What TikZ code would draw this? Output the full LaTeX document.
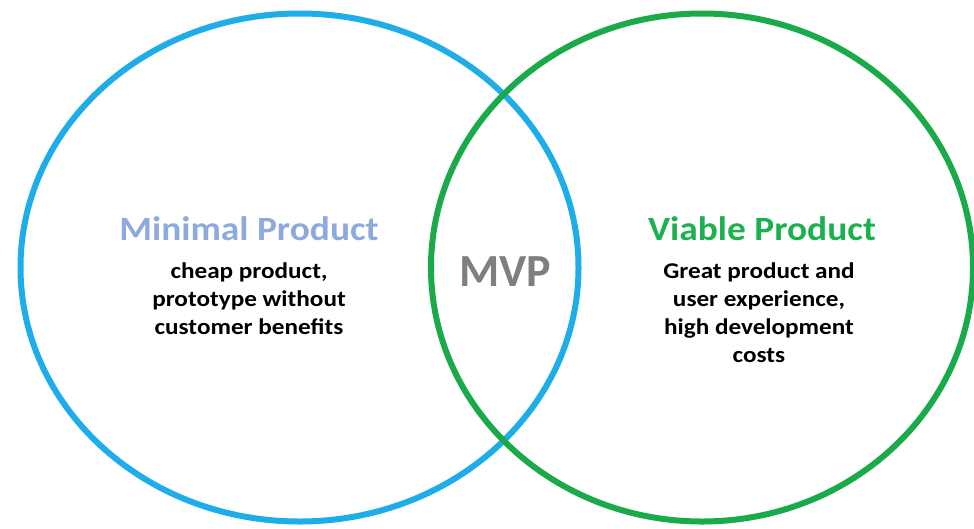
\documentclass[tikz,border=0pt]{standalone}
\usepackage{fontspec}
\setmainfont{Carlito}
\newfontfamily\widefont{Carlito}[FakeStretch=1.1]
\newfontfamily\bodyfont{Carlito}[FakeStretch=1.12]
\definecolor{cblue}{HTML}{1EADE8}
\definecolor{cgreen}{HTML}{1BAA4A}
\definecolor{tblue}{HTML}{8EA9DB}
\definecolor{tgreen}{HTML}{1DB04F}
\definecolor{tgray}{HTML}{7F7F7F}
\begin{document}
\begin{tikzpicture}[x=1pt,y=-1pt,
  ring/.style={line width=6pt},
  title/.style={font=\widefont\bfseries\fontsize{34}{40}\selectfont},
  body/.style={font=\bodyfont\bfseries\fontsize{22.5}{28}\selectfont,align=center,text=black},
  mid/.style={font=\bfseries\fontsize{46}{50}\selectfont,text=tgray}]
\useasboundingbox (0,0) rectangle (974,528);
\draw[ring,cblue] (299.5,267.5) ellipse [x radius=279, y radius=254];
\draw[ring,cgreen] (702,267.5) ellipse [x radius=271, y radius=254];
\node[title,text=tblue] (mint) at (249,229) {Minimal Product};
\node[title,text=tgreen] (viat) at (762,229) {Viable Product};
\node[body,anchor=north] (minb) at (249,259) {cheap product,\\prototype without\\customer benefits};
\node[body,anchor=north] (viab) at (759,259) {Great product and\\user experience,\\high development\\costs};
\node[mid] (mvp) at (505,272) {MVP};
\end{tikzpicture}
\end{document}
